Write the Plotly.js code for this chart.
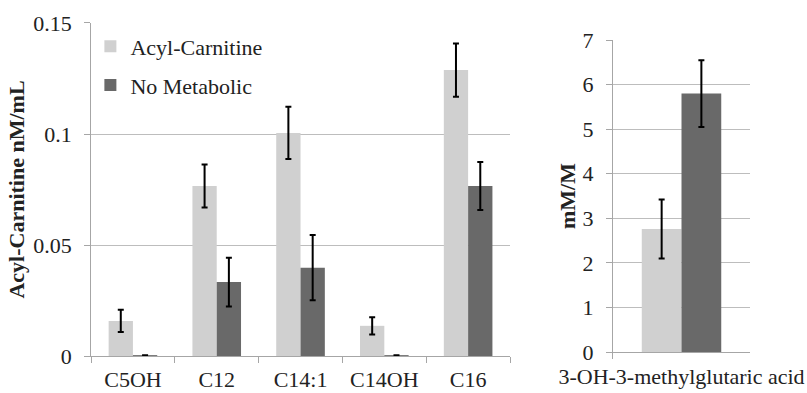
<!DOCTYPE html>
<html>
<head>
<meta charset="utf-8">
<script src="https://cdn.plot.ly/plotly-3.0.1.min.js"></script>
<style>html,body{margin:0;padding:0;background:#fff;}#chart{width:807px;height:393px;}</style>
</head>
<body>
<div id="chart"></div>
<script>
const categories = ["C5OH", "C12", "C14:1", "C14OH", "C16"];
const acylValues = [0.0158, 0.0766, 0.1005, 0.0136, 0.1288];
const acylErrors = [0.0050, 0.0097, 0.0118, 0.0039, 0.0120];
const noMetValues = [0.0004, 0.0333, 0.0398, 0.0004, 0.0766];
const noMetErrors = [0.0000, 0.0110, 0.0147, 0.0000, 0.0108];

const rightCategory = ["3-OH-3-methylglutaric acid"];
const rightAcyl = [2.76];
const rightAcylErr = [0.66];
const rightNoMet = [5.80];
const rightNoMetErr = [0.75];

const lightColor = "#d0d0d0";
const darkColor = "#696969";
const FAM = "Liberation Serif";

function errBar(arr) {
  return {type: "data", array: arr, visible: true, color: "#000", thickness: 2, width: 3};
}

const traces = [
  {type: "bar", name: "Acyl-Carnitine", x: categories, y: acylValues, error_y: errBar(acylErrors),
   marker: {color: lightColor}, xaxis: "x", yaxis: "y", legendgroup: "a"},
  {type: "bar", name: "No Metabolic", x: categories, y: noMetValues, error_y: errBar(noMetErrors),
   marker: {color: darkColor}, xaxis: "x", yaxis: "y", legendgroup: "b"},
  {type: "bar", name: "Acyl-Carnitine", x: rightCategory, y: rightAcyl, error_y: errBar(rightAcylErr),
   marker: {color: lightColor}, xaxis: "x2", yaxis: "y2", showlegend: false},
  {type: "bar", name: "No Metabolic", x: rightCategory, y: rightNoMet, error_y: errBar(rightNoMetErr),
   marker: {color: darkColor}, xaxis: "x2", yaxis: "y2", showlegend: false}
];

function axisBase() {
  return {
    linecolor: "#a6a6a6", linewidth: 1, showline: true,
    tickfont: {family: FAM, size: 22, color: "#222"},
    ticks: "outside", tickcolor: "#a6a6a6", ticklen: 6, zeroline: false
  };
}

const layout = {
  width: 807, height: 393,
  margin: {l: 0, r: 0, t: 0, b: 0},
  paper_bgcolor: "#fff", plot_bgcolor: "#fff",
  barmode: "group", bargap: 0.42, bargroupgap: 0,
  font: {family: FAM, size: 22, color: "#222"},
  showlegend: true,
  legend: {x: 0.112, y: 0.935, xanchor: "left", yanchor: "top", bgcolor: "rgba(0,0,0,0)",
    font: {family: FAM, size: 22, color: "#222"}, traceorder: "grouped", tracegroupgap: 7,
    itemwidth: 30},
  xaxis: Object.assign(axisBase(), {domain: [0.1128, 0.632], anchor: "y", tickson: "boundaries",
    showgrid: false, range: [-0.5, 4.5], tickangle: 0, ticklabelstandoff: 4}),
  yaxis: Object.assign(axisBase(), {domain: [0.0941, 0.9415], anchor: "x", range: [0, 0.15],
    tickvals: [0, 0.05, 0.1, 0.15], ticktext: ["0", "0.05", "0.1", "0.15"],
    showgrid: true, gridcolor: "#bdbdbd", gridwidth: 1, ticklabelstandoff: 8,
    title: {text: "<b>Acyl-Carnitine nM/mL</b>", font: {family: FAM, size: 22, color: "#222"}, standoff: 2}}),
  xaxis2: Object.assign(axisBase(), {domain: [0.7596, 0.9294], anchor: "y2", tickson: "boundaries",
    showgrid: false, range: [-0.5, 0.5], tickangle: 0, ticklabelstandoff: 5}),
  yaxis2: Object.assign(axisBase(), {domain: [0.1043, 0.898], anchor: "x2", range: [0, 7],
    dtick: 1, showgrid: true, gridcolor: "#bdbdbd", gridwidth: 1, ticklabelstandoff: 8,
    title: {text: "<b>mM/M</b>", font: {family: FAM, size: 22, color: "#222"}, standoff: 0}})
};

Plotly.newPlot("chart", traces, layout, {displayModeBar: false, staticPlot: true});
</script>
</body>
</html>
